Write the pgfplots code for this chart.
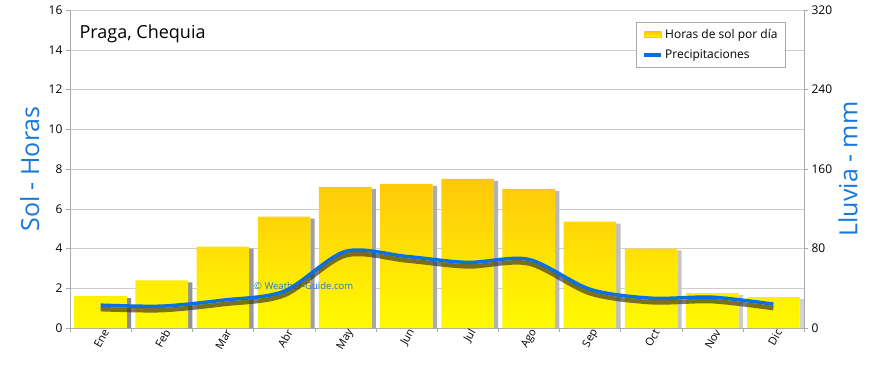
\documentclass[border=0pt]{standalone}
\usepackage{fontspec}
\setmainfont{Open Sans}
\usepackage{pgfplots}
\usepackage{pgfplotstable}
\pgfplotsset{compat=1.18}
\definecolor{lblue}{RGB}{25,120,215}
\definecolor{lineblue}{RGB}{10,112,222}
\definecolor{gridgray}{RGB}{205,205,205}
\definecolor{axgray}{RGB}{170,170,170}
\definecolor{barY}{RGB}{255,250,0}
\definecolor{barO}{RGB}{255,200,10}
\pgfplotstableread{
x sun rain shadow
0 1.6 23 1.5
1 2.4 22 2.3
2 4.1 28 4.0
3 5.6 37 5.5
4 7.1 77 7.0
5 7.25 72 7.15
6 7.5 66 7.4
7 7.0 69 6.9
8 5.35 39 5.25
9 4.0 30 3.9
10 1.75 31 1.65
11 1.55 24 1.45
}\datatab
\begin{document}
\begin{tikzpicture}
\useasboundingbox (-70pt,-40pt) rectangle (800pt,328pt);
\begin{axis}[
  at={(0,0)}, anchor=south west,
  scale only axis, width=734pt, height=318pt,
  xmin=-0.5, xmax=11.5, ymin=0, ymax=16,
  ytick={0,2,...,16},
  minor ytick={0,2,...,16},
  axis y line*=left, axis x line*=bottom,
  axis line style={draw=axgray, -},
  ymajorgrids, grid style={draw=gridgray},
  tick align=outside, major tick length=0pt, minor tick length=4pt,
  tick style={draw=axgray},
  xtick={0,1,...,11},
  xticklabels={Ene,Feb,Mar,Abr,May,Jun,Jul,Ago,Sep,Oct,Nov,Dic},
  minor xtick={-0.5,0.5,...,11.5},
  xticklabel style={rotate=60, anchor=east, font=\fontsize{11}{13}\selectfont, inner sep=1pt, yshift=-6pt, xshift=2pt},
  yticklabel style={font=\fontsize{12}{14}\selectfont, xshift=-4pt},
  /pgf/number format/assume math mode=true,
  ylabel={Sol - Horas},
  ylabel style={at={(axis description cs:-0.055,0.5)}, anchor=center, font=\fontsize{25}{30}\selectfont, text=lblue},
  clip=false,
]
\addplot[ybar, bar width=0.07, bar shift=0.465, draw=none, left color=gray!90, right color=gray!35] table[x=x, y=shadow] {\datatab};
\addplot[ybar, bar width=0.86, bar shift=0, draw=none, top color=barO, middle color=barY!75!barO, bottom color=barY] table[x=x, y=sun] {\datatab};
\node[anchor=west, font=\fontsize{18}{22}\selectfont] at (axis cs:-0.4,14.8) {Praga, Chequia};
\node[font=\fontsize{9.5}{11}\selectfont, text=lblue] at (axis cs:3.32,2.1) {© Weather-Guide.com};
\end{axis}
\begin{axis}[
  at={(0,0)}, anchor=south west,
  scale only axis, width=734pt, height=318pt,
  xmin=-0.5, xmax=11.5, ymin=0, ymax=320,
  axis x line=none, axis y line*=right,
  axis line style={draw=axgray, -},
  ytick={0,80,...,320},
  minor ytick={0,80,...,320},
  tick align=outside, major tick length=0pt, minor tick length=4pt,
  tick style={draw=axgray},
  yticklabel style={font=\fontsize{12}{14}\selectfont, xshift=4pt},
  /pgf/number format/assume math mode=true,
  ylabel={Lluvia - mm},
  ylabel style={at={(axis description cs:1.06,0.5)}, anchor=center, font=\fontsize{25}{30}\selectfont, text=lblue},
  legend style={at={(axis description cs:0.975,0.962)}, anchor=north east, draw=axgray, font=\fontsize{12}{14}\selectfont, row sep=6pt, inner xsep=6pt, inner ysep=5pt},
  legend cell align=left,
  clip=false,
]
\addlegendimage{area legend, draw=barO, top color=barO, bottom color=barY}
\addlegendentry{Horas de sol por día}
\addplot[smooth, line width=4.5pt, draw=black!85!olive, opacity=0.65, yshift=-4pt, forget plot] table[x=x, y=rain] {\datatab};
\addplot[smooth, line width=3.5pt, draw=lineblue] table[x=x, y=rain] {\datatab};
\addlegendentry{Precipitaciones}
\end{axis}
\end{tikzpicture}
\end{document}
